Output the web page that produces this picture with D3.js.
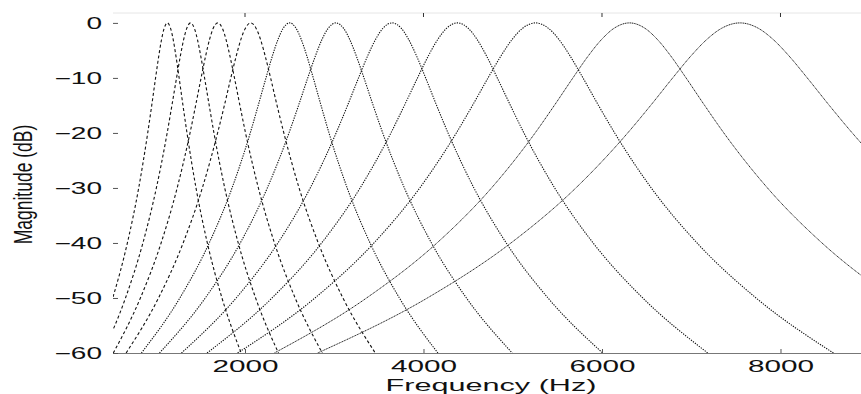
<!DOCTYPE html>
<html>
<head>
<meta charset="utf-8">
<script src="https://cdn.jsdelivr.net/npm/d3@7"></script>
<style>
  html, body { margin: 0; padding: 0; background: #fff; }
  svg { display: block; }
  text { font-family: "Liberation Sans", Arial, Helvetica, sans-serif; fill: #111; }
</style>
</head>
<body>
<svg id="chart" width="861" height="394"></svg>
<script>
// Gammatone filter bank: magnitude responses of 11 channels.
const freqTicks = [2000, 4000, 6000, 8000];
const dbTicks = [0, -10, -20, -30, -40, -50, -60];

// Channel centre frequencies (Hz)
const centreHz = [1130, 1390, 1695, 2064, 2500, 3018, 3648, 4380, 5255, 6308, 7546];

// Attenuation levels (dB) at which each response's half-width is given
const levelsDb = [-1, -3, -6, -10, -15, -20, -30, -40, -50, -60];

// Half-width (Hz) of each channel's response at the levels above
const halfWidthCh1  = [36, 65, 96, 132, 175, 220, 321, 448, 612, 827];
const halfWidthCh2  = [43, 77, 114, 157, 209, 262, 383, 534, 729, 985];
const halfWidthCh3  = [52, 92, 136, 187, 248, 311, 455, 635, 867, 1171];
const halfWidthCh4  = [61, 110, 162, 223, 295, 371, 542, 757, 1033, 1396];
const halfWidthCh5  = [73, 130, 193, 265, 352, 441, 645, 901, 1230, 1661];
const halfWidthCh6  = [87, 155, 229, 315, 418, 525, 768, 1071, 1463, 1976];
const halfWidthCh7  = [104, 185, 274, 376, 499, 627, 917, 1279, 1747, 2360];
const halfWidthCh8  = [123, 220, 326, 447, 594, 745, 1090, 1521, 2077, 2805];
const halfWidthCh9  = [147, 262, 387, 532, 706, 887, 1297, 1810, 2471, 3338];
const halfWidthCh10 = [175, 312, 462, 634, 842, 1057, 1546, 2157, 2946, 3979];
const halfWidthCh11 = [208, 371, 549, 754, 1001, 1258, 1839, 2566, 3503, 4732];

const halfWidths = [halfWidthCh1, halfWidthCh2, halfWidthCh3, halfWidthCh4, halfWidthCh5,
  halfWidthCh6, halfWidthCh7, halfWidthCh8, halfWidthCh9, halfWidthCh10, halfWidthCh11];

const svg = d3.select("#chart");
const plotLeft = 113, plotRight = 861, plotTop = 13, plotBottom = 353;
const stretch = 1.75; // wide glyph look of the labels

const x = d3.scaleLinear().domain([521, 8902]).range([plotLeft, plotRight]);
const y = d3.scaleLinear().domain([-60, 1.8]).range([plotBottom, plotTop]);

svg.append("defs").append("clipPath").attr("id", "plotClip")
  .append("rect").attr("x", plotLeft).attr("y", plotTop - 2)
  .attr("width", plotRight - plotLeft).attr("height", plotBottom - plotTop + 2);

// top frame line
svg.append("line").attr("x1", plotLeft).attr("x2", plotRight).attr("y1", plotTop).attr("y2", plotTop)
  .attr("stroke", "#e6e6e6").attr("stroke-width", 1);

// build each response: lower skirt, peak, upper skirt
const channels = centreHz.map((fc, i) => {
  const hw = halfWidths[i];
  const lower = levelsDb.map((db, k) => [fc - hw[k], db]).reverse();
  const upper = levelsDb.map((db, k) => [fc + hw[k], db]);
  return lower.concat([[fc, 0]], upper);
});

const line = d3.line()
  .x(d => x(d[0]))
  .y(d => y(d[1]))
  .curve(d3.curveMonotoneX);

const dashFor = i => i < 4 ? "3,2.4" : (i < 9 ? "1.3,1.2" : "1.2,0.6");

svg.append("g").attr("clip-path", "url(#plotClip)")
  .selectAll("path").data(channels).join("path")
  .attr("d", line)
  .attr("fill", "none")
  .attr("stroke", (d, i) => i < 9 ? "#111" : "#222")
  .attr("stroke-width", (d, i) => i < 9 ? 1.1 : 1)
  .attr("stroke-dasharray", (d, i) => dashFor(i));

// x axis (bottom)
const xAxis = svg.append("g").attr("transform", `translate(0,${plotBottom})`)
  .call(d3.axisBottom(x).tickValues(freqTicks).tickFormat(d3.format("d")).tickSize(-4).tickPadding(0));
xAxis.select(".domain").attr("stroke", "#777").attr("stroke-width", 1.2)
  .attr("d", `M${plotLeft},0.5H${plotRight}`);
xAxis.selectAll(".tick line").attr("stroke", "#555");
xAxis.selectAll(".tick text")
  .attr("y", 0).attr("dy", 0)
  .attr("transform", `translate(0,18.9) scale(1.8,1)`)
  .style("font-size", "16.5px").style("font-family", "'Liberation Sans', Arial, sans-serif")
  .attr("fill", "#111");

// top ticks
svg.append("g").selectAll("line").data(freqTicks).join("line")
  .attr("x1", d => x(d)).attr("x2", d => x(d))
  .attr("y1", plotTop).attr("y2", plotTop + 4)
  .attr("stroke", "#333").attr("stroke-width", 1);

// y axis (left, ticks inside, no spine)
const yAxis = svg.append("g").attr("transform", `translate(${plotLeft},0)`)
  .call(d3.axisLeft(y).tickValues(dbTicks).tickFormat(d => d === 0 ? "0" : "\u2212" + Math.abs(d)).tickSize(-5).tickPadding(0));
yAxis.select(".domain").remove();
yAxis.selectAll(".tick line").attr("stroke", "#555");
yAxis.selectAll(".tick text")
  .attr("x", -11 / stretch).attr("dy", "0.36em")
  .attr("transform", `scale(${stretch},1)`)
  .attr("text-anchor", "end")
  .style("font-size", "16px").style("font-family", "'Liberation Sans', Arial, sans-serif")
  .attr("fill", "#111");

// axis titles
svg.append("text")
  .attr("transform", `translate(491,391) scale(1.8,1)`)
  .attr("text-anchor", "middle")
  .style("font-size", "17px")
  .text("Frequency (Hz)");

svg.append("text")
  .attr("transform", `translate(32,184.5) scale(1.45,1) rotate(-90)`)
  .attr("text-anchor", "middle")
  .style("font-size", "17.5px")
  .text("Magnitude (dB)");
</script>
</body>
</html>
